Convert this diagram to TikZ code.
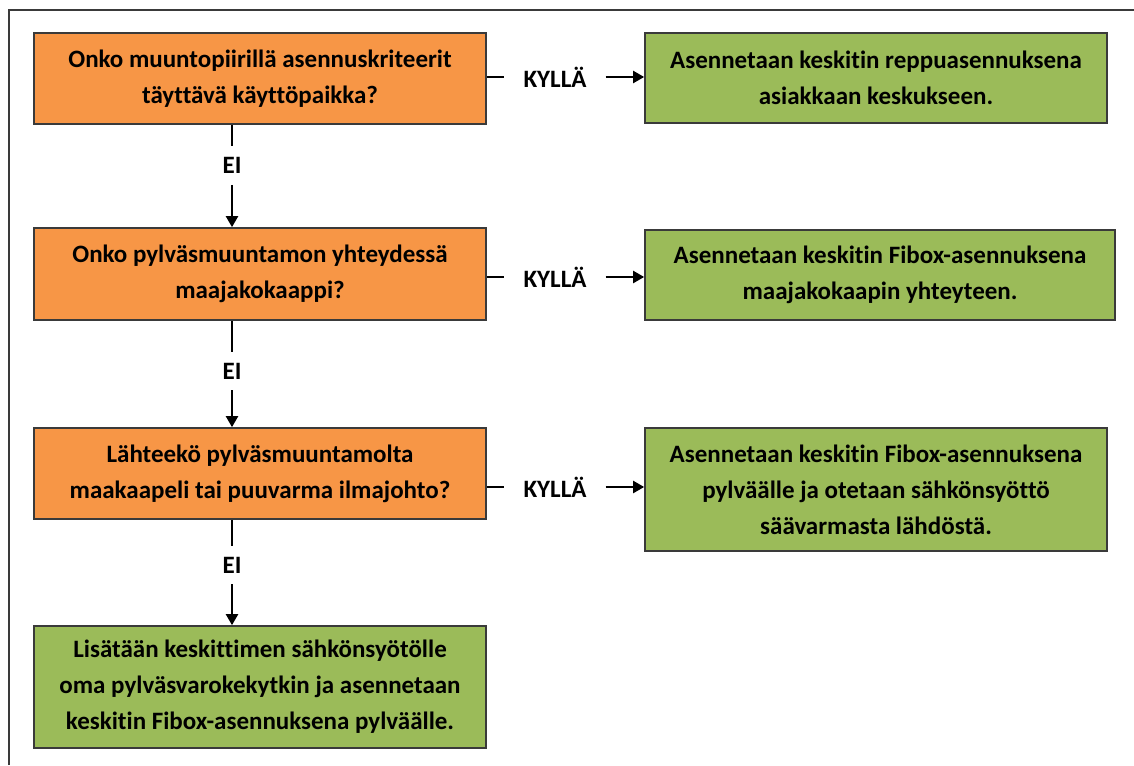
\documentclass[tikz,border=0pt]{standalone}
\usepackage{fontspec}
\setmainfont{Carlito}[Ligatures=CommonOff]
\usetikzlibrary{arrows.meta}
\definecolor{orng}{HTML}{F79646}
\definecolor{grn}{HTML}{9BBB59}
\definecolor{bord}{HTML}{3A3A3A}
\begin{document}
\begin{tikzpicture}[x=1pt,y=-1pt,
  box/.style={draw=bord,line width=1.7pt,inner sep=0pt,align=center,
    font=\bfseries\fontsize{25}{36}\selectfont},
  qbox/.style={box,fill=orng},
  abox/.style={box,fill=grn},
  lab/.style={font=\bfseries\fontsize{25}{30}\selectfont,inner xsep=19pt,inner ysep=11pt},
  conn/.style={line width=2.2pt},
  arr/.style={conn,-{Triangle[length=11pt,width=12pt]}}
]
\useasboundingbox (0,0) rectangle (1134,765);
\draw[bord,line width=1.3pt] (9,765) -- (9,10) -- (1134,10);
% questions
\node[qbox,minimum width=452pt,minimum height=91pt] (q1) at (260,78.5) {Onko muuntopiirillä asennuskriteerit\\täyttävä käyttöpaikka?};
\node[qbox,minimum width=452pt,minimum height=92pt] (q2) at (260,274) {Onko pylväsmuuntamon yhteydessä\\maajakokaappi?};
\node[qbox,minimum width=452pt,minimum height=91pt] (q3) at (260,473.5) {Lähteekö pylväsmuuntamolta\\maakaapeli tai puuvarma ilmajohto?};
% answers
\node[abox,minimum width=462pt,minimum height=90pt] (a1) at (876,78) {Asennetaan keskitin reppuasennuksena\\asiakkaan keskukseen.};
\node[abox,minimum width=470pt,minimum height=90pt] (a2) at (880,275) {Asennetaan keskitin Fibox-asennuksena\\maajakokaapin yhteyteen.};
\node[abox,minimum width=462pt,minimum height=123pt] (a3) at (876,489.5) {Asennetaan keskitin Fibox-asennuksena\\pylväälle ja otetaan sähkönsyöttö\\säävarmasta lähdöstä.};
\node[abox,minimum width=452pt,minimum height=122pt] (a4) at (260,687) {Lisätään keskittimen sähkönsyötölle\\oma pylväsvarokekytkin ja asennetaan\\keskitin Fibox-asennuksena pylväälle.};
% labels
\node[lab] (k1) at (555,77) {KYLLÄ};
\node[lab] (k2) at (555,277) {KYLLÄ};
\node[lab] (k3) at (555,487) {KYLLÄ};
\node[lab] (e1) at (232,165.5) {EI};
\node[lab] (e2) at (232,371) {EI};
\node[lab] (e3) at (232,565) {EI};
% connectors
\draw[conn] (q1.east |- k1) -- (k1.west);
\draw[arr] (k1.east) -- (a1.west |- k1);
\draw[conn] (q2.east |- k2) -- (k2.west);
\draw[arr] (k2.east) -- (a2.west |- k2);
\draw[conn] (q3.east |- k3) -- (k3.west);
\draw[arr] (k3.east) -- (a3.west |- k3);
\draw[conn] (e1 |- q1.south) -- (e1.north);
\draw[arr] (e1.south) -- (e1 |- q2.north);
\draw[conn] (e2 |- q2.south) -- (e2.north);
\draw[arr] (e2.south) -- (e2 |- q3.north);
\draw[conn] (e3 |- q3.south) -- (e3.north);
\draw[arr] (e3.south) -- (e3 |- a4.north);
\end{tikzpicture}
\end{document}
